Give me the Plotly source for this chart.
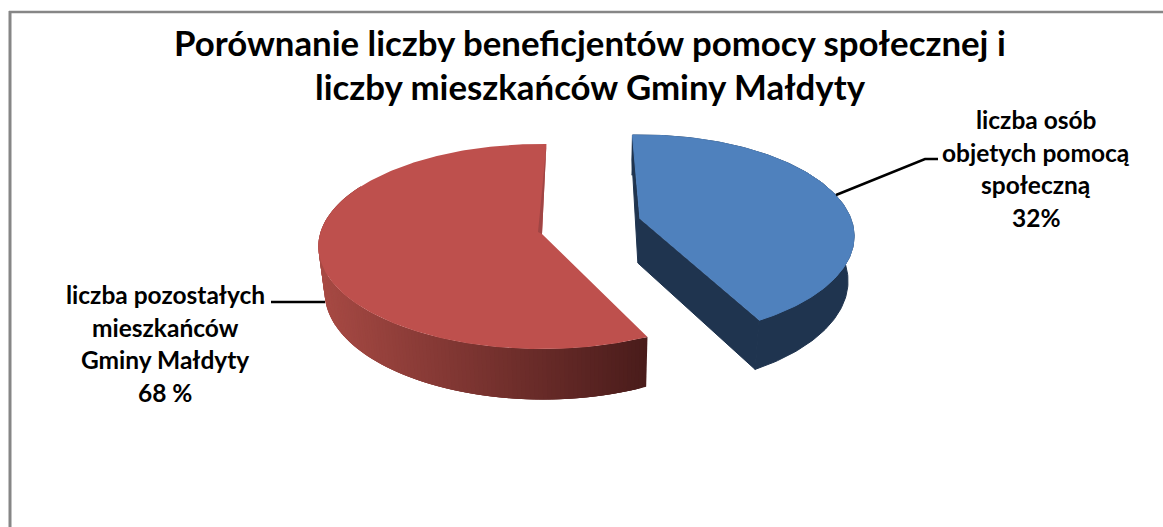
import numpy as np
import plotly.graph_objects as go

# Data
title_lines = ["Porównanie liczby beneficjentów pomocy społecznej i",
               "liczby mieszkańców Gminy Małdyty"]
slice_names = ["liczba osób objetych pomocą społeczną", "liczba pozostałych mieszkańców Gminy Małdyty"]
label_texts = ["32%", "68 %"]
drawn_shares = [42.7, 57.3]   # share of the disc each slice covers as drawn

blue_label = ["liczba osób", "objetych pomocą", "społeczną", "32%"]
red_label = ["liczba pozostałych", "mieszkańców", "Gminy Małdyty", "68 %"]

BLUE_TOP, BLUE_SIDE = "#4F81BD", "#1F344F"
RED_TOP = "#BE504D"
RED_SIDE_L, RED_SIDE_R = (168, 74, 68), (74, 28, 27)
FONT = "Lato"


def rim(t_deg, ax, ay, A, B, k):
    t = np.radians(t_deg)
    u, v = np.sin(t), -np.cos(t)
    d = 1 - k * v
    return ax + A * u / d, ay + B * v / d


def lower(x, y):
    return 590 + (x - 590) * 0.977, y + 44 + 0.05 * (y - 219)


def poly(fig, x, y, color, width=0):
    fig.add_trace(go.Scatter(x=list(x), y=list(y), mode="lines", fill="toself", fillcolor=color,
                             line=dict(color=color, width=width), hoverinfo="skip", showlegend=False))


fig = go.Figure()

spans = [s * 3.6 for s in drawn_shares]

# blue slice
b = dict(ax=640, ay=219, A=211, B=98.3, k=0.17)
t0 = -2.4
tb = np.linspace(t0, t0 + spans[0], 160)
bx, by = rim(tb, **b)
lx, ly = lower(bx, by)
poly(fig, np.r_[bx, lx[::-1]], np.r_[by, ly[::-1]], BLUE_SIDE, 1)
ax_l, ay_l = lower(b["ax"], b["ay"])
# walls of the cut edges as one shape: top corner, down the left strip, along the front edge
poly(fig, [bx[0], bx[0] - 0.5, ax_l - 1, lx[-1], bx[-1], b["ax"]],
     [by[0], by[0] + 25, ay_l, ly[-1], by[-1], b["ay"]], BLUE_SIDE, 1)
poly(fig, np.r_[b["ax"], bx], np.r_[b["ay"], by], BLUE_TOP, 1)

# red slice
r = dict(ax=542, ay=234, A=222, B=101, k=0.122)
t1 = 155
side_end = 300
edges = np.linspace(t1, side_end, 146)
for a0, a1 in zip(edges[:-1], edges[1:]):
    seg = np.linspace(a0, min(a1 + 2, side_end), 4)
    sx, sy = rim(seg, **r)
    lsx, lsy = lower(sx, sy)
    f = np.clip((646 - lsx[0]) / (646 - 323), 0, 1)
    c = [round(RED_SIDE_R[i] + (RED_SIDE_L[i] - RED_SIDE_R[i]) * f) for i in range(3)]
    poly(fig, np.r_[sx, lsx[::-1]], np.r_[sy, lsy[::-1]], f"rgb({c[0]},{c[1]},{c[2]})")
tr = np.linspace(t1, t1 + spans[1], 240)
rx, ry = rim(tr, **r)
poly(fig, np.r_[r["ax"], rx], np.r_[r["ay"], ry], RED_TOP)
# thin inner wall beside the 12 o'clock edge
poly(fig, [rx[-1], r["ax"], r["ax"] - 4, rx[-1] - 4], [ry[-1], r["ay"], r["ay"] - 2, ry[-1] + 43], "#A04544")

# leader lines
fig.add_trace(go.Scatter(x=[836, 925, 938], y=[195, 159, 159], mode="lines",
                         line=dict(color="black", width=2.5), hoverinfo="skip", showlegend=False))
fig.add_trace(go.Scatter(x=[271, 325], y=[302, 302], mode="lines",
                         line=dict(color="black", width=2.5), hoverinfo="skip", showlegend=False))


def text(s, x, y, size):
    fig.add_annotation(x=x, y=y, text=f"<b>{s}</b>", showarrow=False, xref="x", yref="y",
                       xanchor="center", yanchor="middle", font=dict(family=FONT, size=size, color="black"))


for s, y in zip(title_lines, [42, 86]):
    text(s, 590, y, 34.8)
for s, y in zip(blue_label, [119, 152, 184, 217]):
    text(s, 1036, y, 24.5)
for s, y in zip(red_label, [294, 327, 359, 392]):
    text(s, 165, y, 24.5)

fig.update_layout(
    width=1163, height=527, margin=dict(l=0, r=0, t=0, b=0),
    paper_bgcolor="white", plot_bgcolor="white", showlegend=False,
    xaxis=dict(range=[0, 1163], visible=False, fixedrange=True),
    yaxis=dict(range=[527, 0], visible=False, fixedrange=True),
    shapes=[
        dict(type="line", x0=10, x1=10, y0=11, y1=527, line=dict(color="#868686", width=3)),
        dict(type="line", x0=9, x1=1163, y0=12, y1=12, line=dict(color="#868686", width=2.5)),
    ],
)
fig.write_html("out.html", config={"displayModeBar": False},
               post_script="document.body.style.margin='0';document.body.style.overflow='hidden';")
